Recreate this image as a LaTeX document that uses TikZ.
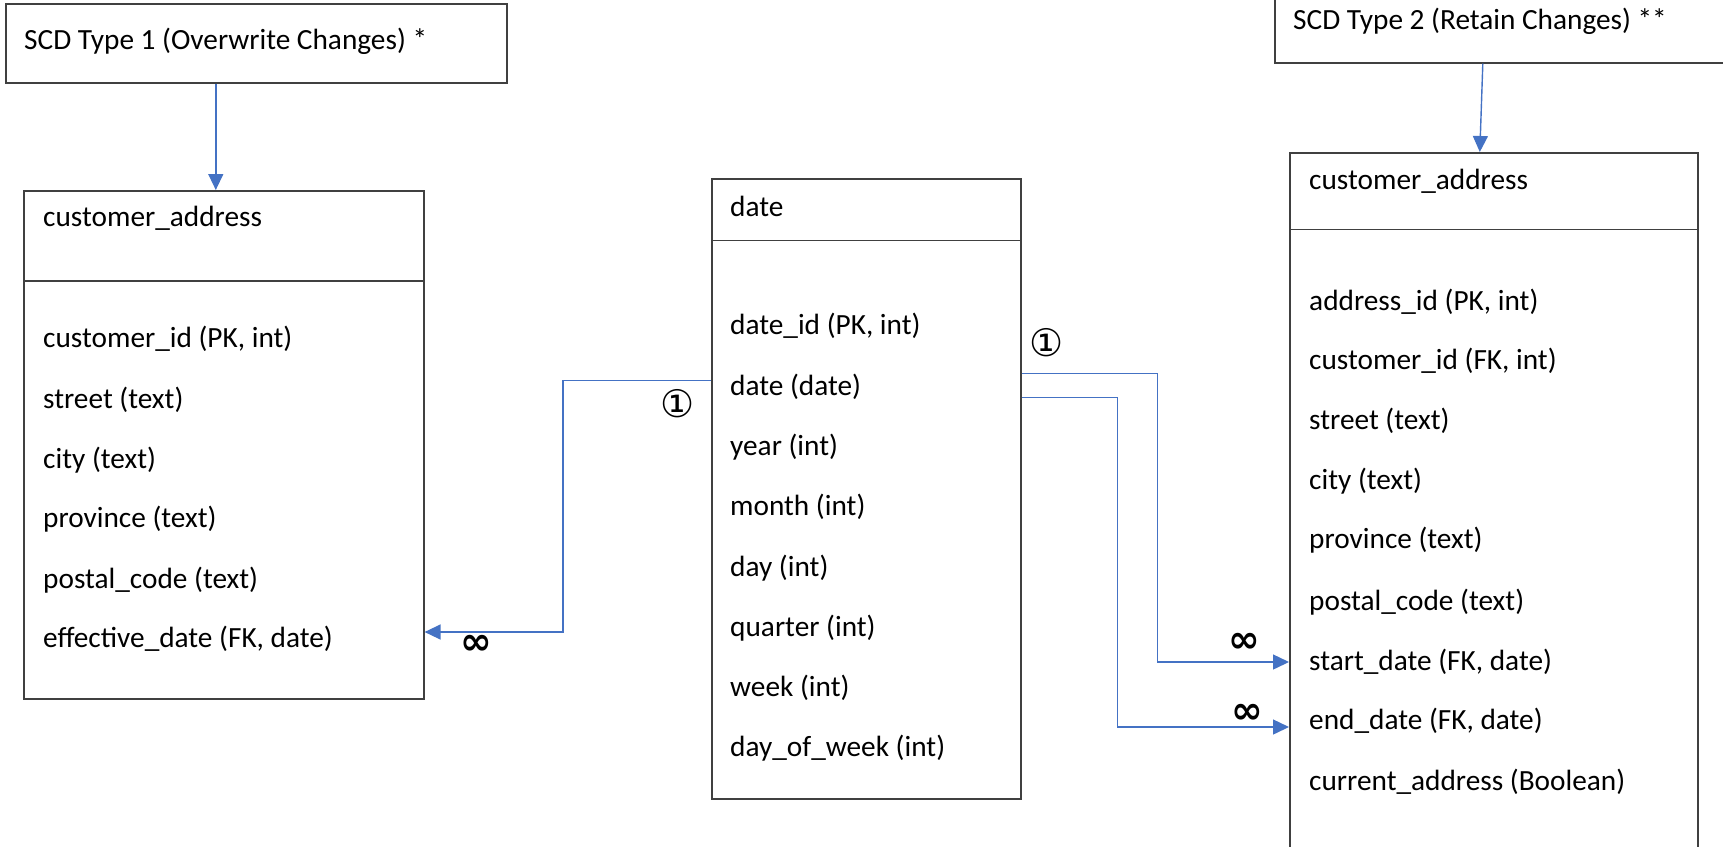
\documentclass[tikz,border=0pt]{standalone}
\usepackage{fontspec}
\setmainfont{Carlito}
\newfontfamily\symfont{DejaVu Sans}
\usetikzlibrary{arrows.meta}
\definecolor{linkblue}{RGB}{68,114,196}
\definecolor{boxgray}{RGB}{64,64,64}

\begin{document}
\begin{tikzpicture}[x=1pt, y=-1pt,
    table/.style ={draw=boxgray, line width=1.6pt, anchor=north west, inner sep=0pt},
    field/.style ={anchor=west, inner sep=0pt, font=\fontsize{29.3}{35}\selectfont},
    link/.style ={draw=linkblue, line width=1.4pt, -{Triangle[length=16pt,width=15pt]}},
    one/.style ={inner sep=0pt, font=\symfont\fontsize{38}{40}\selectfont},
    many/.style ={inner sep=0pt, font=\symfont\bfseries\fontsize{38}{40}\selectfont}]
   \useasboundingbox (0,0) rectangle (1723,846);

   % notes on top
   \node[table, minimum width=501pt, minimum height=79pt] (scd1) at (5,3) {};
   \node[field] (scd1-txt) at (24,41) {SCD Type 1 (Overwrite Changes) *};
   \node[table, minimum width=480pt, minimum height=82pt] (scd2) at (1274,-20) {};
   \node[field] (scd2-txt) at (1293,21) {SCD Type 2 (Retain Changes) **};

   % tables
   \node[table, minimum width=400pt, minimum height=508pt] (ca1) at (23,190) {};
   \node[table, minimum width=309pt, minimum height=620pt] (dt) at (711,178) {};
   \node[table, minimum width=408pt, minimum height=760pt] (ca2) at (1289,152) {};
   \draw[boxgray, line width=1.6pt] ([yshift=-91pt]ca1.north west) -- ([yshift=-91pt]ca1.north east);
   \draw[boxgray, line width=1.6pt] ([yshift=-62.5pt]dt.north west) -- ([yshift=-62.5pt]dt.north east);
   \draw[boxgray, line width=1.6pt] ([yshift=-77.5pt]ca2.north west) -- ([yshift=-77.5pt]ca2.north east);

   % SCD type 1 table
   \node[field] (ca1-name)  at (43,218) {customer\_address};
   \node[field] (ca1-id)    at (43,339) {customer\_id (PK, int)};
   \node[field] (ca1-str)   at (43,400) {street (text)};
   \node[field] (ca1-city)  at (43,460) {city (text)};
   \node[field] (ca1-prov)  at (43,519) {province (text)};
   \node[field] (ca1-post)  at (43,580) {postal\_code (text)};
   \node[field] (ca1-eff)   at (43,639) {effective\_date (FK, date)};

   % date table
   \node[field] (dt-name)  at (730,206) {date};
   \node[field] (dt-id)    at (730,326) {date\_id (PK, int)};
   \node[field] (dt-date)  at (730,386.5) {date (date)};
   \node[field] (dt-year)  at (730,447) {year (int)};
   \node[field] (dt-month) at (730,507) {month (int)};
   \node[field] (dt-day)   at (730,568) {day (int)};
   \node[field] (dt-qtr)   at (730,628) {quarter (int)};
   \node[field] (dt-week)  at (730,688) {week (int)};
   \node[field] (dt-dow)   at (730,748) {day\_of\_week (int)};

   % SCD type 2 table
   \node[field] (ca2-name)  at (1309,181) {customer\_address};
   \node[field] (ca2-id)    at (1309,302) {address\_id (PK, int)};
   \node[field] (ca2-cust)  at (1309,361) {customer\_id (FK, int)};
   \node[field] (ca2-str)   at (1309,420.5) {street (text)};
   \node[field] (ca2-city)  at (1309,481) {city (text)};
   \node[field] (ca2-prov)  at (1309,540) {province (text)};
   \node[field] (ca2-post)  at (1309,602) {postal\_code (text)};
   \node[field] (ca2-start) at (1309,662) {start\_date (FK, date)};
   \node[field] (ca2-end)   at (1309,721) {end\_date (FK, date)};
   \node[field] (ca2-cur)   at (1309,782) {current\_address (Boolean)};

   % note arrows
   \draw[link] ([xshift=-40.5pt]scd1.south) -- ([xshift=-8pt]ca1.north);
   \draw[link] ([xshift=-32pt]scd2.south) -- ([xshift=-14pt]ca2.north);

   % relations
   \draw[link] ([yshift=6pt]dt.west |- dt-date) -- ++(-148,0) |- ([yshift=7pt]ca1.east |- ca1-eff);
   \draw[link] ([yshift=13pt]dt.east |- dt-date) -- ++(136,0) |- (ca2.west |- ca2-start);
   \draw[link] ([yshift=-11pt]dt.east |- dt-date) -- ++(96,0) |- ([yshift=-6pt]ca2.west |- ca2-end);

   \node[one]  (one-l)  at (678,404) {①};
   \node[many] (many-l) at (476,645) {∞};
   \node[one]  (one-r)  at (1047,343) {①};
   \node[many] (many-s) at (1244,643) {∞};
   \node[many] (many-e) at (1247,714) {∞};
 \end{tikzpicture}
\end{document}
